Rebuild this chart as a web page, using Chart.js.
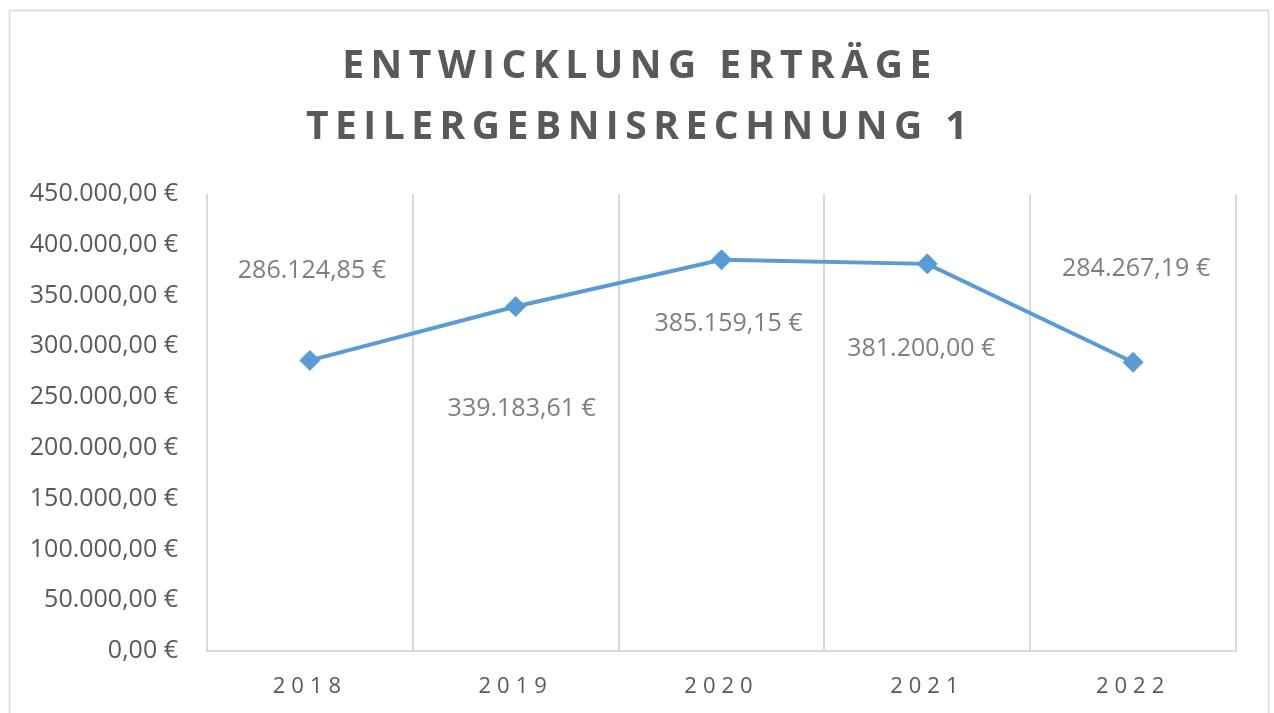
<!DOCTYPE html>
<html>
<head>
<meta charset="utf-8">
<script src="https://cdn.jsdelivr.net/npm/chart.js@4/dist/chart.umd.min.js"></script>
<style>
    html, body { margin: 0; padding: 0; background: #fff; }
    #wrap { width: 1274px; height: 713px; position: relative; }
</style>
</head>
<body>
<div id="wrap"><canvas id="ertraegeChart"></canvas></div>
<script>
// Chart data
const years = ['2018', '2019', '2020', '2021', '2022'];
const ertraege = [286124.85, 339183.61, 385159.15, 381200.00, 284267.19];
const titleLines = ['ENTWICKLUNG ERTRÄGE', 'TEILERGEBNISRECHNUNG 1'];
const yMax = 450000;
const yStep = 50000;

// German currency format: 1.234,56 €
function euro(v) {
    const parts = Number(v).toFixed(2).split('.');
    return parts[0].replace(/\B(?=(\d{3})+(?!\d))/g, '.') + ',' + parts[1] + ' €';
}

// White background + light outer frame like the Excel chart area
const framePlugin = {
    id: 'frame',
    beforeDraw(chart) {
        const ctx = chart.ctx;
        ctx.save();
        ctx.fillStyle = '#fff';
        ctx.fillRect(0, 0, chart.width, chart.height);
        ctx.strokeStyle = '#d9d9d9';
        ctx.lineWidth = 1.5;
        ctx.strokeRect(9.5, 10.5, 1259, 720);
        ctx.restore();
    }
};

// Title with wide letter spacing (Chart.js title has no letterSpacing option)
const spacedTitlePlugin = {
    id: 'spacedTitle',
    afterDraw(chart, args, opts) {
        const ctx = chart.ctx;
        ctx.save();
        ctx.font = 'bold 39px "Open Sans"';
        ctx.letterSpacing = '6.5px';
        ctx.fillStyle = '#595959';
        ctx.textAlign = 'center';
        ctx.textBaseline = 'alphabetic';
        opts.lines.forEach((line, i) => {
            ctx.fillText(line, chart.width / 2 + 3, 78 + i * 61);
        });
        ctx.restore();
    }
};

// Category labels with letter spacing, placed by the x scale
const spacedXLabelsPlugin = {
    id: 'spacedXLabels',
    afterDraw(chart) {
        const ctx = chart.ctx;
        const xs = chart.scales.x;
        ctx.save();
        ctx.font = '22px "Open Sans"';
        ctx.letterSpacing = '6px';
        ctx.fillStyle = '#595959';
        ctx.textAlign = 'center';
        ctx.textBaseline = 'alphabetic';
        chart.data.labels.forEach((lab, i) => {
            ctx.fillText(lab, xs.getPixelForValue(i), chart.chartArea.bottom + 42);
        });
        ctx.restore();
    }
};

// Value labels next to each point
const valueLabelsPlugin = {
    id: 'valueLabels',
    afterDatasetsDraw(chart, args, opts) {
        const ctx = chart.ctx;
        const meta = chart.getDatasetMeta(0);
        const values = chart.data.datasets[0].data;
        ctx.save();
        ctx.font = '25px "Open Sans"';
        ctx.fillStyle = '#7f7f7f';
        ctx.textAlign = 'center';
        ctx.textBaseline = 'alphabetic';
        meta.data.forEach((pt, i) => {
            const off = opts.offsets[i] || [0, -30];
            ctx.fillText(euro(values[i]), pt.x + off[0], pt.y + off[1] + 9);
        });
        ctx.restore();
    }
};

const canvas = document.getElementById('ertraegeChart');

const ertraegeChart = new Chart(canvas, {
    type: 'line',
    data: {
        labels: years,
        datasets: [{
            label: 'Erträge',
            data: ertraege,
            borderColor: '#5b9bd5',
            backgroundColor: '#5b9bd5',
            borderWidth: 4,
            pointStyle: 'rectRot',
            pointRadius: 10,
            pointBorderWidth: 1,
            pointBackgroundColor: '#5b9bd5',
            pointBorderColor: '#5b9bd5',
            tension: 0,
            fill: false
        }]
    },
    options: {
        responsive: true,
        maintainAspectRatio: false,
        animation: false,
        layout: {
            padding: { top: 194, right: 38, bottom: 0, left: 0 }
        },
        plugins: {
            legend: { display: false },
            tooltip: { enabled: false },
            title: { display: false },
            spacedTitle: { lines: titleLines },
            // label offset from its point, in px (Excel placed them by hand)
            valueLabels: { offsets: [[2, -91], [6, 100], [7, 62], [-6, 83], [3, -95]] }
        },
        scales: {
            x: {
                offset: true,
                grid: {
                    display: true,
                    offset: true,
                    color: '#d9d9d9',
                    lineWidth: 2,
                    drawTicks: false
                },
                border: { display: true, color: '#d9d9d9', width: 2 },
                ticks: { display: false },
                afterFit: scale => { scale.height = 62; }
            },
            y: {
                min: 0,
                max: yMax,
                ticks: {
                    stepSize: yStep,
                    color: '#595959',
                    font: { family: 'Open Sans', size: 25 },
                    padding: 21,
                    callback: v => euro(v)
                },
                grid: { display: false },
                border: { display: false },
                afterFit: scale => { scale.width = 207; }
            }
        }
    },
    plugins: [framePlugin, spacedTitlePlugin, spacedXLabelsPlugin, valueLabelsPlugin]
});
</script>
</body>
</html>
